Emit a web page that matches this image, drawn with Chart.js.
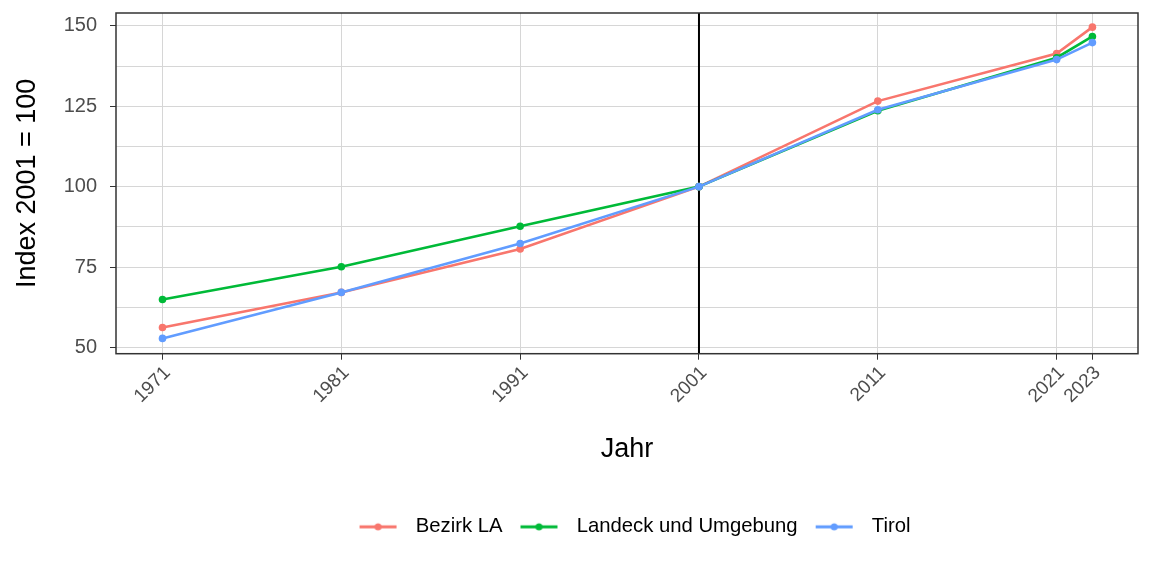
<!DOCTYPE html>
<html lang="de">
<head>
<meta charset="UTF-8">
<title>Index 2001 = 100</title>
<script src="https://cdn.jsdelivr.net/npm/chart.js"></script>
<style>
  html, body { margin: 0; padding: 0; background: #fff; }
  #wrap { width: 1152px; height: 576px; position: relative; }
</style>
</head>
<body>
<div id="wrap"><canvas id="chart"></canvas></div>
<script>
// data
const years = [1971, 1981, 1991, 2001, 2011, 2021, 2023];
const bezirkLA = [56.2, 67.1, 80.6, 100, 126.6, 141.4, 149.6];
const landeck = [64.9, 75.1, 87.7, 100, 123.6, 140.1, 146.7];
const tirol = [52.8, 67.1, 82.3, 100, 123.9, 139.5, 144.8];
const seriesNames = ['Bezirk LA', 'Landeck und Umgebung', 'Tirol'];
const seriesColors = ['#F8766D', '#00BA38', '#619CFF'];
const yTicks = [50, 62.5, 75, 87.5, 100, 112.5, 125, 137.5, 150];
const refYear = 2001;

const FONT = '"Liberation Sans", Arial, sans-serif';

function toPoints(vals) {
    return years.map((y, i) => ({ x: y, y: vals[i] }));
}

// little line + dot picture for the legend keys
// (16px empty on the left pushes the whole legend a bit to the right, like the original)
function legendKey(color) {
    const c = document.createElement('canvas');
    c.width = 62; c.height = 10;
    const g = c.getContext('2d');
    g.strokeStyle = color;
    g.lineWidth = 3;
    g.beginPath(); g.moveTo(16, 5); g.lineTo(53, 5); g.stroke();
    g.fillStyle = color;
    g.beginPath(); g.arc(34.5, 5, 3.5, 0, Math.PI * 2); g.fill();
    return c;
}
const keys = seriesColors.map(legendKey);

const allSeries = [bezirkLA, landeck, tirol];
const datasets = allSeries.map((vals, i) => ({
    label: seriesNames[i],
    data: toPoints(vals),
    borderColor: seriesColors[i],
    backgroundColor: seriesColors[i],
    borderWidth: 2.6,
    pointRadius: 3.8,
    pointHoverRadius: 3.8,
    pointBorderWidth: 0,
    tension: 0,
    order: allSeries.length - i // last series on top
}));

// panel border + vertical line at the index year
const panelPlugin = {
    id: 'panel',
    beforeDatasetsDraw(chart) {
        const { ctx, chartArea } = chart;
        const x = chart.scales.x.getPixelForValue(refYear);
        ctx.save();
        ctx.strokeStyle = '#000';
        ctx.lineWidth = 2;
        ctx.beginPath();
        ctx.moveTo(x, chartArea.top);
        ctx.lineTo(x, chartArea.bottom);
        ctx.stroke();
        ctx.restore();
    },
    afterDraw(chart) {
        const { ctx, chartArea } = chart;
        ctx.save();
        ctx.strokeStyle = '#333333';
        ctx.lineWidth = 1.5;
        ctx.strokeRect(chartArea.left, chartArea.top,
            chartArea.right - chartArea.left, chartArea.bottom - chartArea.top);
        ctx.restore();
    }
};

new Chart(document.getElementById('chart'), {
    type: 'line',
    data: { datasets },
    plugins: [panelPlugin],
    options: {
        responsive: true,
        maintainAspectRatio: false,
        animation: false,
        layout: { padding: { left: 0, top: 13, right: 14, bottom: 29 } },
        scales: {
            x: {
                type: 'linear',
                min: 1968.4,
                max: 2025.55,
                afterBuildTicks: (s) => { s.ticks = years.map(v => ({ value: v })); },
                afterFit: (s) => { s.height = 161; s.paddingLeft = 0; s.paddingRight = 0; },
                ticks: {
                    autoSkip: false,
                    minRotation: 45,
                    maxRotation: 45,
                    padding: 2,
                    labelOffset: 5,
                    color: '#4D4D4D',
                    font: { family: FONT, size: 19 },
                    callback: (v) => String(v)
                },
                grid: {
                    color: '#D6D6D6',
                    lineWidth: 1,
                    tickLength: 6,
                    tickColor: '#333333'
                },
                border: { display: false },
                title: {
                    display: true,
                    text: 'Jahr',
                    color: '#000',
                    font: { family: FONT, size: 27 },
                    padding: { top: 4, bottom: 49 }
                }
            },
            y: {
                min: 48.04,
                max: 154.0,
                afterBuildTicks: (s) => { s.ticks = yTicks.map(v => ({ value: v })); },
                afterFit: (s) => { s.width = 116; s.paddingTop = 0; s.paddingBottom = 0; },
                ticks: {
                    color: '#4D4D4D',
                    padding: 13,
                    font: { family: FONT, size: 20 },
                    callback: (v) => (v % 25 === 0 ? String(v) : '')
                },
                grid: {
                    color: '#D6D6D6',
                    lineWidth: 1,
                    tickLength: 6,
                    tickColor: (c) => (c.tick && c.tick.value % 25 === 0 ? '#333333' : 'rgba(0,0,0,0)')
                },
                border: { display: false },
                title: {
                    display: true,
                    text: 'Index 2001 = 100',
                    color: '#000',
                    font: { family: FONT, size: 27 },
                    padding: { top: 11, bottom: 0 }
                }
            }
        },
        plugins: {
            tooltip: { enabled: false },
            legend: {
                position: 'bottom',
                fullSize: false,
                labels: {
                    usePointStyle: true,
                    pointStyleWidth: 62,
                    padding: 2,
                    color: '#000',
                    font: { family: FONT, size: 20.3 },
                    generateLabels: (chart) => {
                        const items = Chart.defaults.plugins.legend.labels.generateLabels(chart);
                        items.sort((a, b) => a.datasetIndex - b.datasetIndex);
                        items.forEach(it => { it.pointStyle = keys[it.datasetIndex]; });
                        return items;
                    }
                }
            }
        }
    }
});
</script>
</body>
</html>
